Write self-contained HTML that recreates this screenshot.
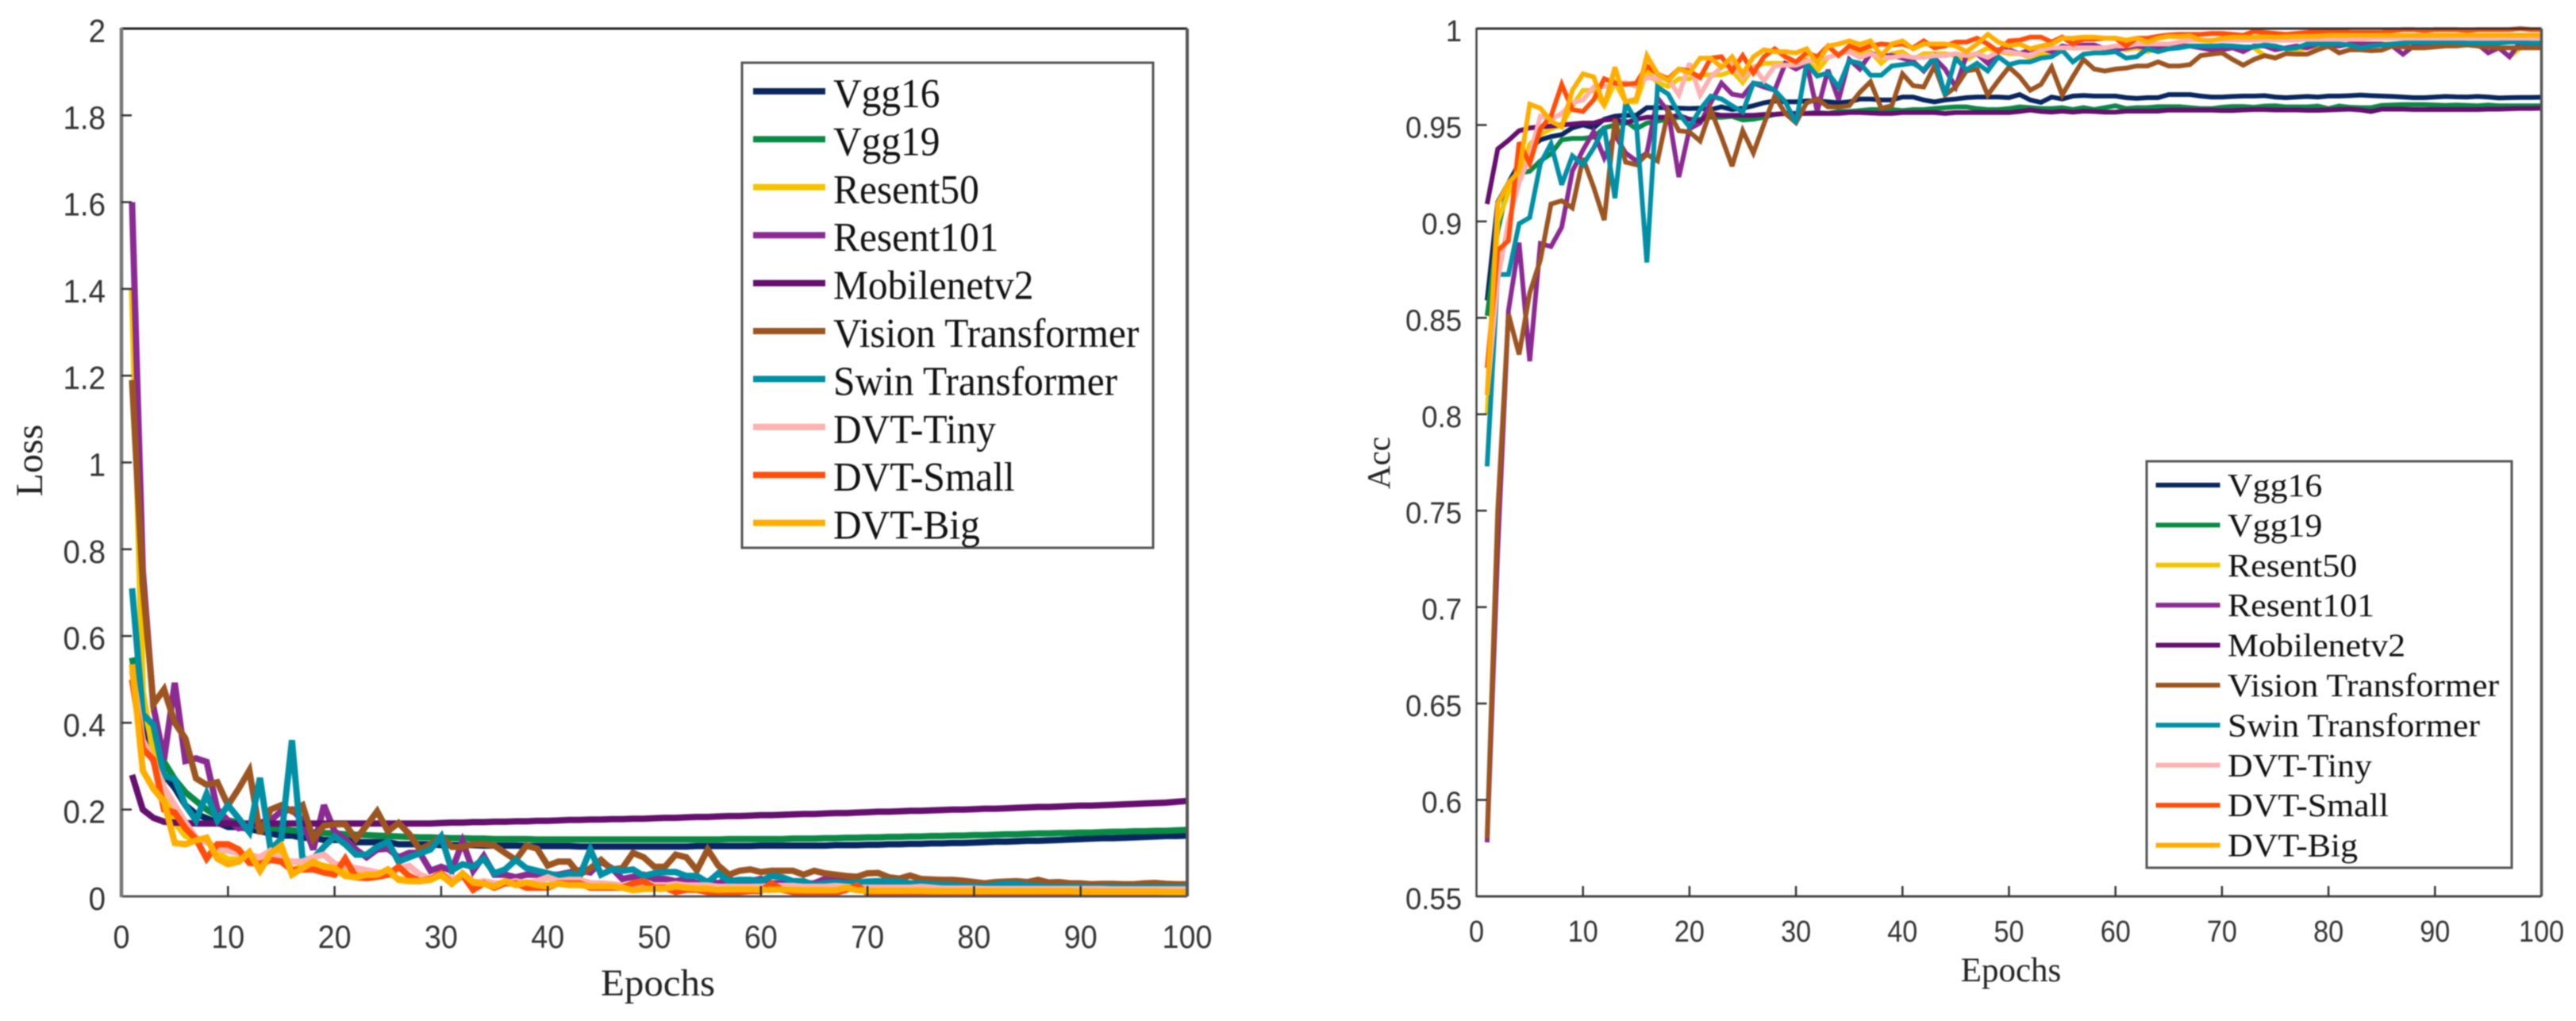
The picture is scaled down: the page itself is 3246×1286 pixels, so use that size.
<!DOCTYPE html>
<html lang="en">
<head>
<meta charset="utf-8">
<title>Loss and accuracy curves</title>
<style>
html,body{margin:0;padding:0;background:#fff;width:3246px;height:1286px;overflow:hidden}
svg{display:block;filter:blur(0.7px)}
</style>
</head>
<body>
<svg id="figure" xmlns="http://www.w3.org/2000/svg" width="3246" height="1286" viewBox="0 0 3246 1286">
<rect x="0" y="0" width="3246" height="1286" fill="#fff"/>
</svg>
<script>
const seriesNames = ["Vgg16","Vgg19","Resent50","Resent101","Mobilenetv2","Vision Transformer","Swin Transformer","DVT-Tiny","DVT-Small","DVT-Big"];
const seriesColors = ["#082760","#0a8a44","#f5c400","#8a2a92","#650f6e","#9c5520","#008fa5","#ffb0b0","#ff4e0a","#ffae00"];
const xTicks = [0,10,20,30,40,50,60,70,80,90,100];
const lossTicks = [0,0.2,0.4,0.6,0.8,1,1.2,1.4,1.6,1.8,2];
const accTicks = [0.55,0.6,0.65,0.7,0.75,0.8,0.85,0.9,0.95,1];

const lossVgg16 = [
.50,.40,.33,.28,.25,.21,.19,.18,.17,.16,
.16,.155,.15,.145,.14,.14,.135,.135,.13,.13,
.13,.125,.125,.125,.125,.12,.12,.12,.12,.118,
.118,.118,.118,.117,.117,.117,.117,.116,.116,.116,
.116,.116,.115,.115,.115,.115,.115,.115,.115,.115,
.115,.115,.115,.116,.116,.116,.116,.116,.116,.117,
.117,.117,.117,.117,.117,.117,.118,.118,.118,.119,
.119,.12,.12,.121,.121,.122,.122,.123,.123,.124,
.125,.126,.126,.127,.128,.128,.129,.13,.131,.132,
.133,.134,.134,.135,.136,.137,.138,.139,.139,.14];
const lossVgg19 = [
.55,.42,.36,.31,.27,.24,.22,.20,.185,.175,
.17,.165,.16,.157,.155,.152,.15,.148,.146,.145,
.143,.142,.141,.14,.139,.138,.137,.136,.136,.135,
.134,.134,.133,.133,.132,.132,.132,.132,.131,.131,
.131,.131,.131,.131,.131,.131,.131,.131,.131,.131,
.131,.131,.131,.131,.131,.131,.132,.132,.132,.132,
.132,.132,.133,.133,.133,.134,.134,.135,.135,.136,
.136,.137,.137,.138,.138,.139,.139,.14,.14,.141,
.141,.142,.143,.143,.144,.145,.145,.146,.146,.147,
.147,.148,.149,.149,.15,.15,.151,.151,.152,.153];
const lossResent50 = [
1.4,.47,.33,.25,.17,.14,.13,.13,.10,.085,
.085,.10,.065,.09,.10,.06,.07,.075,.07,.065,
.055,.05,.05,.05,.055,.04,.038,.038,.04,.048,
.03,.048,.034,.03,.026,.032,.028,.032,.028,.026,
.03,.028,.028,.025,.025,.025,.022,.018,.02,.02,
.02,.024,.022,.02,.02,.018,.018,.018,.018,.016,
.018,.018,.018,.016,.016,.016,.016,.018,.016,.014,
.014,.014,.014,.014,.014,.014,.013,.013,.013,.013,
.013,.013,.013,.012,.012,.012,.012,.012,.012,.012,
.012,.012,.012,.012,.011,.011,.011,.011,.011,.011];
const lossResent101 = [
1.6,.75,.437,.315,.492,.312,.318,.31,.2,.175,
.157,.16,.17,.175,.196,.2,.175,.108,.21,.15,
.132,.108,.09,.108,.11,.09,.1,.1,.059,.068,
.059,.126,.059,.093,.05,.05,.044,.05,.05,.05,
.05,.055,.06,.055,.08,.065,.04,.045,.05,.04,
.04,.035,.04,.03,.035,.03,.04,.03,.035,.04,
.03,.03,.03,.03,.03,.04,.04,.038,.03,.028,
.025,.03,.028,.024,.024,.022,.022,.02,.02,.02,
.02,.02,.02,.018,.018,.018,.018,.018,.018,.018,
.018,.018,.018,.016,.016,.016,.016,.016,.016,.016];
const lossMobilenetv2 = [
.28,.20,.181,.172,.17,.169,.168,.168,.168,.168,
.168,.168,.168,.168,.168,.168,.168,.168,.168,.168,
.168,.168,.168,.168,.168,.168,.168,.168,.168,.169,
.17,.17,.171,.171,.172,.172,.173,.173,.174,.174,
.175,.176,.176,.177,.177,.178,.178,.179,.179,.18,
.181,.181,.182,.183,.183,.184,.185,.185,.186,.187,
.187,.188,.189,.19,.19,.191,.192,.192,.193,.194,
.195,.195,.196,.197,.197,.198,.199,.2,.2,.201,
.202,.202,.203,.204,.205,.206,.206,.207,.208,.209,
.209,.21,.211,.212,.213,.214,.215,.216,.218,.22];
const lossVision = [
1.19,.72,.443,.477,.40,.364,.272,.257,.263,.21,
.248,.29,.144,.20,.21,.196,.21,.132,.163,.166,
.166,.132,.163,.196,.15,.169,.144,.108,.12,.138,
.114,.114,.12,.12,.117,.10,.084,.117,.11,.071,
.08,.08,.05,.065,.084,.062,.065,.10,.09,.068,
.068,.096,.09,.06,.108,.071,.05,.059,.062,.056,
.059,.059,.059,.05,.059,.053,.05,.047,.045,.053,
.054,.044,.041,.048,.04,.039,.038,.038,.036,.033,
.03,.033,.034,.035,.033,.038,.032,.033,.03,.03,
.028,.029,.029,.028,.028,.03,.031,.029,.028,.028];
const lossSwin = [
.71,.42,.395,.278,.27,.21,.175,.236,.175,.21,
.18,.148,.273,.108,.132,.36,.084,.087,.114,.138,
.12,.096,.096,.114,.126,.08,.09,.099,.108,.138,
.06,.074,.068,.087,.053,.062,.084,.065,.059,.053,
.047,.053,.047,.108,.05,.062,.059,.062,.047,.053,
.056,.056,.047,.047,.032,.053,.035,.038,.038,.035,
.047,.044,.035,.035,.026,.03,.032,.03,.032,.034,
.035,.035,.034,.03,.03,.028,.027,.026,.024,.023,
.023,.027,.029,.029,.026,.024,.022,.022,.022,.022,
.021,.021,.022,.02,.021,.021,.021,.021,.021,.021];
const lossTiny = [
.52,.36,.31,.25,.21,.17,.135,.125,.11,.105,
.10,.095,.09,.105,.085,.08,.08,.09,.096,.075,
.07,.065,.06,.055,.05,.065,.07,.05,.04,.05,
.04,.045,.03,.035,.03,.03,.035,.03,.035,.044,
.035,.038,.038,.03,.03,.028,.025,.025,.025,.025,
.025,.028,.025,.025,.025,.022,.022,.022,.022,.022,
.024,.024,.024,.022,.022,.022,.024,.022,.02,.02,
.02,.02,.02,.02,.022,.02,.018,.018,.018,.018,
.017,.017,.017,.017,.017,.017,.017,.017,.017,.017,
.017,.017,.016,.016,.016,.016,.016,.016,.016,.016];
const lossSmall = [
.50,.34,.315,.20,.193,.157,.132,.087,.12,.12,
.108,.077,.075,.084,.08,.06,.062,.062,.055,.05,
.087,.044,.042,.045,.05,.068,.047,.035,.04,.053,
.03,.05,.015,.03,.02,.03,.03,.02,.02,.02,
.03,.03,.03,.02,.02,.02,.02,.03,.035,.02,
.02,.01,.015,.015,.01,.01,.01,.01,.012,.012,
.03,.015,.01,.01,.008,.008,.008,.015,.025,.008,
.008,.008,.007,.007,.007,.007,.006,.006,.006,.005,
.005,.005,.005,.005,.005,.005,.005,.005,.005,.005,
.005,.005,.005,.005,.005,.005,.005,.005,.005,.005];
const lossBig = [
.535,.29,.248,.218,.123,.12,.129,.135,.087,.074,
.08,.102,.059,.099,.117,.05,.065,.08,.068,.065,
.047,.044,.05,.05,.062,.038,.035,.035,.038,.05,
.029,.053,.032,.029,.023,.035,.026,.032,.026,.023,
.029,.026,.026,.023,.023,.023,.02,.014,.017,.018,
.018,.023,.02,.018,.018,.015,.016,.016,.016,.015,
.015,.016,.015,.014,.014,.014,.014,.02,.014,.013,
.013,.013,.013,.013,.013,.012,.012,.012,.012,.012,
.012,.012,.012,.012,.012,.012,.012,.012,.012,.011,
.011,.011,.011,.011,.011,.011,.011,.01,.01,.01];

const accVgg16 = [
.859,.91,.92,.93,.938,.9423,.944,.945,.9485,.95,
.9485,.953,.9546,.955,.955,.959,.959,.959,.9587,.9585,
.9587,.958,.9594,.958,.9587,.96,.9615,.9625,.962,.962,
.9625,.9625,.962,.9615,.962,.9635,.9635,.963,.963,.9645,
.9645,.963,.962,.963,.9635,.9642,.9645,.9645,.9645,.9642,
.9658,.963,.9617,.9645,.9635,.965,.9653,.965,.965,.965,
.9642,.9638,.9642,.9642,.9658,.9658,.9658,.965,.9645,.9645,
.9648,.965,.965,.9652,.9645,.9642,.9645,.9648,.9645,.965,
.965,.9652,.9655,.9652,.965,.9648,.9645,.9642,.9642,.9645,
.9648,.9646,.9645,.9648,.9645,.964,.9642,.9643,.9643,.9644];
const accVgg19 = [
.851,.895,.92,.925,.926,.9314,.935,.9423,.943,.943,
.9437,.9485,.95,.952,.948,.951,.952,.953,.954,.953,
.953,.954,.954,.9545,.9526,.953,.954,.9555,.956,.956,
.956,.9565,.956,.957,.957,.9575,.958,.958,.958,.9575,
.958,.958,.9585,.959,.9594,.9594,.9585,.958,.958,.9585,
.9594,.959,.9585,.9585,.959,.958,.959,.958,.959,.96,
.9585,.959,.959,.9595,.9595,.9595,.959,.9585,.9585,.9592,
.9596,.9596,.9592,.9598,.96,.9594,.9594,.9594,.9598,.9585,
.9598,.9592,.959,.959,.9602,.9604,.9606,.9606,.9606,.9604,
.9602,.9604,.9602,.96,.9604,.96,.96,.96,.96,.96];
const accResent50 = [
.80,.90,.915,.925,.94,.945,.948,.95,.96,.968,
.968,.96,.972,.962,.962,.978,.972,.97,.974,.974,
.976,.976,.976,.978,.972,.98,.982,.982,.982,.982,
.984,.978,.985,.987,.988,.987,.988,.982,.987,.988,
.984,.987,.987,.987,.986,.984,.987,.99,.988,.987,
.987,.985,.987,.988,.99,.99,.99,.99,.99,.99,
.989,.99,.988,.99,.991,.991,.991,.99,.989,.989,
.99,.99,.99,.986,.985,.987,.9888,.99,.991,.991,
.991,.992,.992,.992,.992,.992,.992,.992,.992,.992,
.992,.992,.992,.991,.989,.99,.9854,.99,.992,.992];
const accResent101 = [
.578,.73,.8537,.889,.8275,.8885,.887,.897,.926,.937,
.9465,.933,.945,.9355,.9314,.9355,.964,.957,.923,.948,
.951,.9615,.9717,.966,.965,.9717,.9697,.968,.982,.979,
.982,.957,.9786,.963,.984,.979,.987,.986,.986,.9847,
.983,.978,.9847,.979,.9697,.986,.987,.982,.989,.989,
.987,.989,.99,.988,.991,.990,.9915,.9915,.9895,.989,
.99,.991,.99,.99,.991,.991,.991,.99,.989,.989,
.99,.988,.991,.991,.989,.99,.991,.99,.992,.992,
.991,.992,.992,.992,.992,.991,.9867,.991,.992,.992,
.992,.992,.992,.992,.9874,.99,.9854,.993,.991,.9915];
const accMobilenetv2 = [
.909,.9376,.942,.947,.9485,.949,.9495,.95,.9505,.951,
.951,.9526,.953,.951,.953,.954,.954,.954,.955,.953,
.952,.956,.955,.955,.955,.955,.9555,.9555,.956,.956,
.956,.956,.956,.956,.9565,.9565,.9562,.956,.956,.9565,
.9565,.9565,.9565,.956,.9565,.9565,.9565,.9565,.9565,.9565,
.957,.9577,.957,.9567,.9572,.9567,.9572,.957,.9567,.9567,
.9572,.9572,.9572,.9572,.9577,.9577,.9577,.9577,.9577,.9575,
.9575,.9578,.958,.958,.9578,.9578,.9578,.9576,.9576,.9578,
.958,.9582,.9578,.957,.9582,.9582,.9582,.958,.958,.958,
.958,.958,.958,.958,.9582,.9582,.9584,.9586,.9586,.9587];
const accVision = [
.58,.75,.852,.831,.863,.88,.909,.9107,.907,.9328,
.9178,.9007,.953,.9307,.9294,.9348,.9314,.9574,.947,.9464,
.9417,.958,.9437,.9287,.947,.9355,.9505,.965,.956,.9512,
.9615,.9635,.9594,.9594,.96,.967,.9724,.9587,.96,.9765,
.9704,.9697,.9806,.9656,.9697,.978,.979,.9656,.973,.98,
.975,.968,.971,.98,.9656,.975,.984,.979,.978,.979,
.9795,.9806,.9806,.9827,.9806,.9806,.9813,.986,.9867,.9874,
.984,.981,.984,.986,.9847,.987,.9867,.9867,.989,.9908,
.9874,.989,.989,.9885,.9888,.991,.9905,.99,.99,.9905,
.991,.991,.9915,.991,.9905,.99,.99,.99,.99,.99];
const accSwin = [
.773,.8725,.8725,.8988,.902,.93,.9403,.919,.934,.9294,
.938,.949,.912,.9615,.952,.8787,.9697,.966,.956,.949,
.958,.965,.9635,.96,.9567,.9717,.971,.968,.962,.951,
.982,.9754,.977,.9697,.9833,.982,.9758,.9758,.9806,.9813,
.982,.9786,.9854,.9656,.9847,.9786,.982,.978,.9854,.9813,
.9827,.9827,.9847,.9854,.9888,.9827,.9867,.9874,.9874,.988,
.9847,.9854,.9895,.988,.9895,.99,.991,.991,.991,.9912,
.991,.9905,.9905,.9915,.991,.9895,.99,.992,.992,.992,
.992,.9915,.99,.991,.9915,.992,.9925,.993,.9928,.993,
.993,.993,.9925,.9925,.9925,.9925,.993,.993,.9925,.9925];
const accTiny = [
.81,.87,.90,.92,.934,.9546,.953,.956,.9615,.963,
.9697,.97,.971,.972,.97,.9745,.974,.974,.9656,.982,
.9656,.975,.98,.982,.9745,.98,.973,.9806,.981,.981,
.983,.984,.985,.987,.988,.985,.987,.985,.985,.986,
.985,.985,.986,.986,.987,.986,.987,.985,.988,.988,
.987,.986,.989,.99,.99,.99,.99,.99,.99,.991,
.991,.992,.992,.992,.992,.993,.994,.994,.994,.994,
.994,.994,.994,.994,.994,.994,.994,.9945,.9945,.9945,
.9945,.9945,.9945,.995,.995,.995,.995,.995,.995,.995,
.995,.995,.995,.995,.995,.995,.995,.995,.995,.995];
const accSmall = [
.824,.885,.89,.941,.93,.948,.9546,.971,.958,.957,
.963,.974,.9717,.971,.9717,.9806,.9765,.974,.979,.978,
.9745,.9847,.9854,.978,.986,.977,.9854,.9895,.9854,.9827,
.9874,.9854,.991,.986,.991,.989,.991,.992,.9915,.992,
.99,.9936,.99,.991,.993,.993,.995,.992,.988,.9936,
.994,.9956,.9956,.993,.9956,.992,.9945,.9945,.995,.995,
.991,.995,.995,.996,.9967,.997,.997,.997,.9975,.9975,
.997,.9965,.9985,.998,.9975,.997,.9975,.998,.9985,.9985,
.999,.998,.998,.998,.998,.999,.9995,.9995,.999,.9995,
.9995,.9995,.999,.9995,.9995,.9995,.9995,1,.9995,.9995];
const accBig = [
.81,.9094,.92,.926,.9608,.9587,.952,.949,.968,.9765,
.975,.96,.98,.962,.9635,.986,.9765,.973,.979,.977,
.9847,.9847,.98,.9854,.9765,.9854,.989,.988,.988,.9874,
.9895,.982,.991,.992,.9936,.9918,.9936,.986,.992,.9936,
.9895,.992,.992,.992,.991,.988,.992,.997,.993,.991,
.992,.9895,.991,.992,.995,.995,.9956,.9956,.995,.995,
.994,.995,.993,.995,.996,.9958,.9963,.994,.9936,.995,
.9955,.9955,.9955,.9958,.9955,.9958,.996,.996,.996,.9965,
.9965,.9965,.9965,.9965,.9965,.9965,.9965,.9965,.9965,.9966,
.9966,.9966,.9966,.9966,.9966,.9966,.9966,.9966,.9966,.9966];

const lossSeries = [lossVgg16,lossVgg19,lossResent50,lossResent101,lossMobilenetv2,lossVision,lossSwin,lossTiny,lossSmall,lossBig];
const accSeries = [accVgg16,accVgg19,accResent50,accResent101,accMobilenetv2,accVision,accSwin,accTiny,accSmall,accBig];

const NS = 'http://www.w3.org/2000/svg';
const root = document.getElementById('figure');
const SANS = '"Liberation Sans", Arial, sans-serif';
const SERIF = '"Liberation Serif", "Times New Roman", serif';

function slug(s){ return s.toLowerCase().replace(/[^a-z0-9]+/g,'-'); }

function addLine(parent,x1,y1,x2,y2,stroke,width,name){
  const el = document.createElementNS(NS,'line');
  el.setAttribute('x1',x1); el.setAttribute('y1',y1);
  el.setAttribute('x2',x2); el.setAttribute('y2',y2);
  el.setAttribute('stroke',stroke); el.setAttribute('stroke-width',width);
  
  
  parent.appendChild(el);
  return el;
}

function addText(parent,x,y,str,size,family,anchor,fill,sx,rotate,name){
  const el = document.createElementNS(NS,'text');
  let t = 'translate('+x+','+y+')';
  if(rotate) t += ' rotate('+rotate+')';
  if(sx!==1) t += ' scale('+sx+',1)';
  el.setAttribute('transform',t);
  el.setAttribute('font-size',size);
  el.setAttribute('font-family',family);
  el.setAttribute('text-anchor',anchor);
  el.setAttribute('fill',fill);
  el.textContent = str;
  
  
  parent.appendChild(el);
  return el;
}

function drawChart(cfg){
  const g = document.createElementNS(NS,'g');
  
  
  root.appendChild(g);

  const xScale = v => cfg.left + (v-0)/(100-0)*(cfg.right-cfg.left);
  const yScale = v => cfg.bottom - (v-cfg.yMin)/(cfg.yMax-cfg.yMin)*(cfg.bottom-cfg.top);

  cfg.series.forEach((vals,i)=>{
    const pl = document.createElementNS(NS,'polyline');
    pl.setAttribute('points', vals.map((v,k)=>xScale(k+1).toFixed(1)+','+yScale(v).toFixed(1)).join(' '));
    pl.setAttribute('fill','none');
    pl.setAttribute('stroke',seriesColors[i]);
    pl.setAttribute('stroke-width',cfg.lineWidth);
    pl.setAttribute('stroke-linejoin','miter');
    pl.setAttribute('stroke-miterlimit','3');
    
    
    g.appendChild(pl);
  });

  // axes box
  addLine(g,cfg.left,cfg.top,cfg.right,cfg.top,cfg.topColor,3,'top-border');
  addLine(g,cfg.right,cfg.top,cfg.right,cfg.bottom,cfg.sideColor,cfg.rightWidth,'right-border');
  addLine(g,cfg.left,cfg.bottom,cfg.right,cfg.bottom,cfg.bottomColor,3,'x-axis-line');
  addLine(g,cfg.left,cfg.top-1,cfg.left,cfg.bottom+1,cfg.axisColor,cfg.leftWidth,'y-axis-line');

  xTicks.forEach(v=>{
    const x = xScale(v);
    if(v>0 && v<100) addLine(g,x,cfg.bottom,x,cfg.bottom-13,'#333',2.5,'x-tick-'+v);
    addText(g,x,cfg.xLabelY,String(v),cfg.tickSize,SANS,'middle','#333',cfg.xTickSx,0,'x-tick-label-'+v);
  });
  cfg.yTicks.forEach(v=>{
    const y = yScale(v);
    if(v!==cfg.yMin && v!==cfg.yMax) addLine(g,cfg.left,y,cfg.left+13,y,'#333',2.5,'y-tick-'+slug(String(v)));
    addText(g,cfg.yLabelX,y+cfg.yLabelDy,String(v),cfg.tickSize,SANS,'end','#333',cfg.yTickSx,0,'y-tick-label-'+slug(String(v)));
  });

  addText(g,cfg.xTitle.x,cfg.xTitle.y,'Epochs',cfg.xTitle.size,SERIF,'middle','#222',cfg.xTitle.sx,0,'x-axis-title');
  addText(g,cfg.yTitle.x,cfg.yTitle.y,cfg.yTitle.text,cfg.yTitle.size,SERIF,'middle','#222',1,-90,'y-axis-title');

  // legend
  const lg = document.createElementNS(NS,'g');
  
  
  g.appendChild(lg);
  const L = cfg.legend;
  const box = document.createElementNS(NS,'rect');
  box.setAttribute('x',L.x); box.setAttribute('y',L.y);
  box.setAttribute('width',L.w); box.setAttribute('height',L.h);
  box.setAttribute('fill','#fff'); box.setAttribute('stroke','#555'); box.setAttribute('stroke-width',3);
  
  
  lg.appendChild(box);
  seriesNames.forEach((n,i)=>{
    const y = L.firstY + i*L.step;
    addLine(lg,L.lineX1,y,L.lineX2,y,seriesColors[i],cfg.legendLine,'legend-line-'+slug(n));
    addText(lg,L.textX,y+L.textDy,n,L.size,SERIF,'start','#111',L.sx,0,'legend-entry-'+slug(n));
  });
}

drawChart({
  name:'loss-chart', series:lossSeries, yTicks:lossTicks, yMin:0, yMax:2,
  left:153, right:1496, top:36, bottom:1129, lineWidth:8,
  topColor:'#222', sideColor:'#555', bottomColor:'#555', axisColor:'#777', leftWidth:4.5, rightWidth:4,
  xLabelY:1194, yLabelX:133, yLabelDy:17, tickSize:41, xTickSx:.92, yTickSx:.94,
  xTitle:{x:829,y:1254,size:48,sx:1.02},
  yTitle:{x:53,y:580,size:48,text:'Loss'},
  legendLine:8,
  legend:{x:935,y:79,w:518,h:611,firstY:115,step:60.4,lineX1:949,lineX2:1040,textX:1050,textDy:20,size:52,sx:.95}
});
drawChart({
  name:'accuracy-chart', series:accSeries, yTicks:accTicks, yMin:0.55, yMax:1,
  left:1860.5, right:3202.5, top:36, bottom:1129, lineWidth:6,
  topColor:'#333', sideColor:'#555', bottomColor:'#444', axisColor:'#444', leftWidth:2.5, rightWidth:3.5,
  xLabelY:1186, yLabelX:1842, yLabelDy:16, tickSize:38, xTickSx:.9, yTickSx:.96,
  xTitle:{x:2534,y:1236,size:43,sx:1},
  yTitle:{x:1751,y:583,size:41,text:'Acc'},
  legendLine:6,
  legend:{x:2705,y:581,w:460,h:512,firstY:611,step:50.4,lineX1:2716.5,lineX2:2797.5,textX:2807,textDy:14,size:41,sx:1.07}
});
</script>
</body>
</html>
